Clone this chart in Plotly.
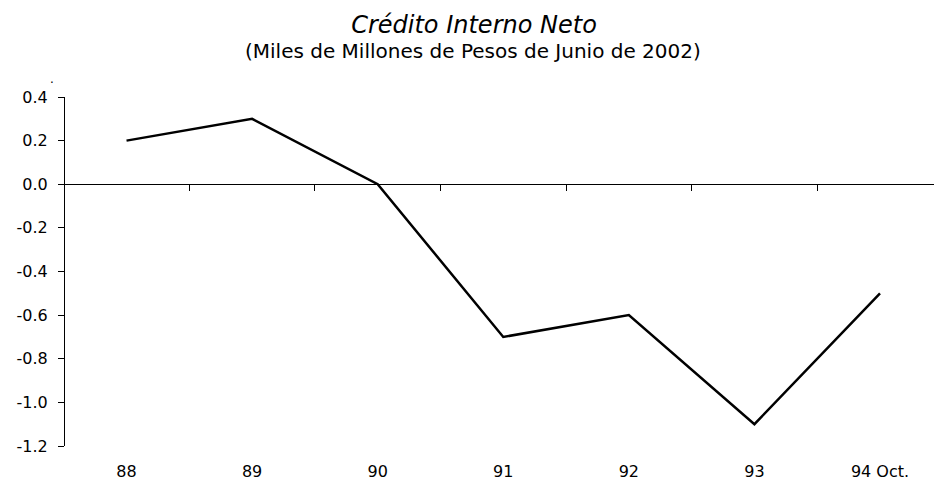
import plotly.graph_objects as go

# Data
categories = ["88", "89", "90", "91", "92", "93", "94 Oct."]
values = [0.2, 0.3, 0.0, -0.7, -0.6, -1.1, -0.5]
y_tickvals = [-1.2, -1.0, -0.8, -0.6, -0.4, -0.2, 0.0, 0.2, 0.4]
y_ticktext = ["-1.2", "-1.0", "-0.8", "-0.6", "-0.4", "-0.2", "0.0", "0.2", "0.4"]
title_text = "Crédito Interno Neto"
subtitle_text = "(Miles de Millones de Pesos de Junio de 2002)"

FONT = "DejaVu Sans"
W, H = 934, 481
ML, MR, MT, MB = 65, 0, 97, 32
x_idx = list(range(len(categories)))
x_range = [-0.49, 6.43]
boundaries = [i + 0.5 for i in range(len(categories) - 1)]

fig = go.Figure()
fig.add_trace(go.Scatter(
    x=x_idx, y=values, mode="lines",
    line=dict(color="black", width=2.5),
    showlegend=False, hoverinfo="skip",
))
fig.add_trace(go.Scatter(
    x=[], y=[], xaxis="x2", yaxis="y", mode="lines",
    showlegend=False, hoverinfo="skip",
))

fig.update_layout(
    width=W, height=H,
    margin=dict(l=ML, r=MR, t=MT, b=MB),
    paper_bgcolor="white", plot_bgcolor="white",
    font=dict(family=FONT, size=16, color="black"),
    title=dict(
        text=f"<i>{title_text}</i>",
        font=dict(family=FONT, size=24, color="black"),
        x=474 / W, xanchor="center",
        y=1 - 25 / H, yanchor="middle",
    ),
    xaxis=dict(
        range=x_range,
        tickvals=x_idx, ticktext=categories,
        ticks="", showline=False, showgrid=False, zeroline=False,
        ticklabelstandoff=14,
        tickfont=dict(family=FONT, size=16, color="black"),
    ),
    xaxis2=dict(
        overlaying="x", anchor="free", position=0.75, side="bottom",
        range=x_range,
        tickvals=boundaries, showticklabels=False,
        ticks="outside", ticklen=6, tickcolor="black", tickwidth=1,
        showline=True, linecolor="black", linewidth=1,
        showgrid=False, zeroline=False,
    ),
    yaxis=dict(
        range=[-1.2, 0.4],
        tickvals=y_tickvals, ticktext=y_ticktext,
        ticks="outside", ticklen=6, tickcolor="black", tickwidth=1,
        showline=True, linecolor="black", linewidth=1,
        showgrid=False, zeroline=False,
        ticklabelstandoff=7,
        tickfont=dict(family=FONT, size=16, color="black"),
    ),
    annotations=[
        dict(
            text=subtitle_text, xref="paper", yref="paper",
            x=(473 - ML) / (W - ML - MR), y=(449 - 51) / (H - MT - MB),
            xanchor="center", yanchor="middle", showarrow=False,
            font=dict(family=FONT, size=20, color="black"),
        ),
        dict(
            text=".", xref="paper", yref="paper",
            x=(52 - ML) / (W - ML - MR), y=(449 - 79) / (H - MT - MB),
            xanchor="center", yanchor="middle", showarrow=False,
            font=dict(family=FONT, size=12, color="black"),
        ),
    ],
)

fig.write_html(
    "out.html",
    config={"displayModeBar": False},
    post_script="document.body.style.margin='0';",
)
